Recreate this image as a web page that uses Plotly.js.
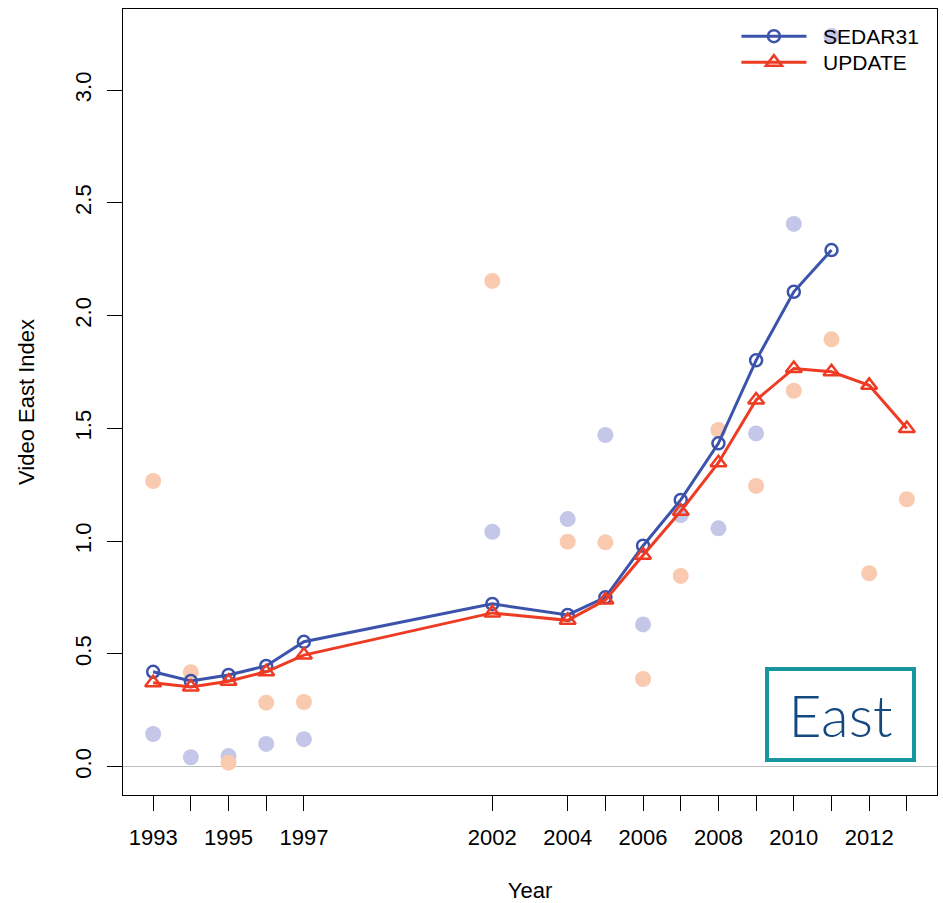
<!DOCTYPE html>
<html>
<head>
<meta charset="utf-8">
<script src="https://cdn.plot.ly/plotly-3.0.1.min.js"></script>
<style>html,body{margin:0;padding:0;background:#fff;}#chart{width:943px;height:903px;}</style>
</head>
<body>
<div id="chart"></div>
<script>
// Years of the indices
const years = [1993,1994,1995,1996,1997,2002,2004,2005,2006,2007,2008,2009,2010,2011,2012,2013];
const sedarYears = [1993,1994,1995,1996,1997,2002,2004,2005,2006,2007,2008,2009,2010,2011];
// Standardized index lines
const sedar31 = [0.421,0.380,0.407,0.447,0.554,0.722,0.673,0.751,0.980,1.183,1.434,1.802,2.106,2.291];
const update  = [0.372,0.353,0.379,0.421,0.495,0.682,0.649,0.739,0.938,1.133,1.348,1.626,1.766,1.751,1.691,1.500];
// Nominal (observed) points
const sedar31Obs = [0.145,0.042,0.047,0.101,0.122,1.042,1.098,1.471,0.631,1.116,1.057,1.478,2.407,3.240];
const updateObs  = [1.267,0.419,0.018,0.284,0.287,2.154,0.998,0.995,0.389,0.846,1.493,1.245,1.667,1.895,0.858,1.186];
// Tick labels
const xTickVals = years;
const xTickText = ['1993','','1995','','1997','2002','2004','','2006','','2008','','2010','','2012',''];
const yTickVals = [0,0.5,1,1.5,2,2.5,3];
const yTickText = ['0.0','0.5','1.0','1.5','2.0','2.5','3.0'];
const seriesNames = ['SEDAR31','UPDATE'];

const FONT = 'Liberation Sans, Arial, sans-serif';
const BLUE = '#3C53AC';
const RED = '#EE3B23';
const NB = '\u00a0\u00a0';

const traces = [
  {x: sedarYears, y: sedar31Obs, mode: 'markers', type: 'scatter', showlegend: false,
   marker: {color: '#C4C7E7', size: 16}, hoverinfo: 'skip'},
  {x: years, y: updateObs, mode: 'markers', type: 'scatter', showlegend: false,
   marker: {color: '#F9CAB0', size: 16}, hoverinfo: 'skip'},
  {x: sedarYears, y: sedar31, mode: 'lines+markers', type: 'scatter', name: NB + seriesNames[0],
   legend: 'legend',
   line: {color: BLUE, width: 3},
   marker: {symbol: 'circle-open', size: 12, color: BLUE, line: {width: 2.5, color: BLUE}}},
  {x: years, y: update, mode: 'lines+markers', type: 'scatter', name: NB + seriesNames[1],
   legend: 'legend2',
   line: {color: RED, width: 3},
   marker: {symbol: 'triangle-up-open', size: 14, color: RED, line: {width: 2.5, color: RED}}}
];

const legendBase = {x: 0.7536, xanchor: 'left', yanchor: 'top', bgcolor: 'rgba(0,0,0,0)',
  font: {family: FONT, size: 21, color: '#000'}, itemwidth: 65, tracegroupgap: 0};

const layout = {
  width: 943, height: 903,
  margin: {l: 123, r: 6, t: 9, b: 108, pad: 0},
  paper_bgcolor: '#fff', plot_bgcolor: '#fff',
  font: {family: FONT, size: 22, color: '#000'},
  showlegend: true,
  legend: Object.assign({}, legendBase, {y: 0.9911}),
  legend2: Object.assign({}, legendBase, {y: 0.958}),
  xaxis: {range: [1992.2, 2013.8], tickmode: 'array', tickvals: xTickVals, ticktext: xTickText,
          ticks: 'outside', ticklen: 15, tickwidth: 1, tickcolor: '#000', ticklabelstandoff: 8,
          showline: true, mirror: true, linecolor: '#000', linewidth: 1,
          showgrid: false, zeroline: false, automargin: false,
          tickfont: {family: FONT, size: 22, color: '#000'},
          title: {text: 'Year', font: {family: FONT, size: 22, color: '#000'}, standoff: 35}},
  yaxis: {range: [-0.1255, 3.36], tickmode: 'array', tickvals: yTickVals, ticktext: yTickText,
          tickangle: -90, ticks: 'outside', ticklen: 15, tickwidth: 1, tickcolor: '#000', ticklabelstandoff: 7,
          showline: true, mirror: true, linecolor: '#000', linewidth: 1,
          showgrid: false, zeroline: true, zerolinecolor: '#BEBEBE', zerolinewidth: 1,
          automargin: false,
          tickfont: {family: FONT, size: 22, color: '#000'},
          title: {text: 'Video East Index', font: {family: FONT, size: 22, color: '#000'}, standoff: 30}},
  annotations: [{
    xref: 'paper', yref: 'paper', x: (840.5-123)/814, y: (795-714.5)/786,
    xanchor: 'center', yanchor: 'middle', showarrow: false,
    text: 'East', font: {family: 'Lato, Liberation Sans, sans-serif', weight: 300, size: 57, color: '#13497F'},
    bordercolor: '#17979D', borderwidth: 4, borderpad: 0, bgcolor: '#fff',
    width: 143, height: 87
  }]
};

Plotly.newPlot('chart', traces, layout, {displayModeBar: false, staticPlot: true});
</script>
</body>
</html>
